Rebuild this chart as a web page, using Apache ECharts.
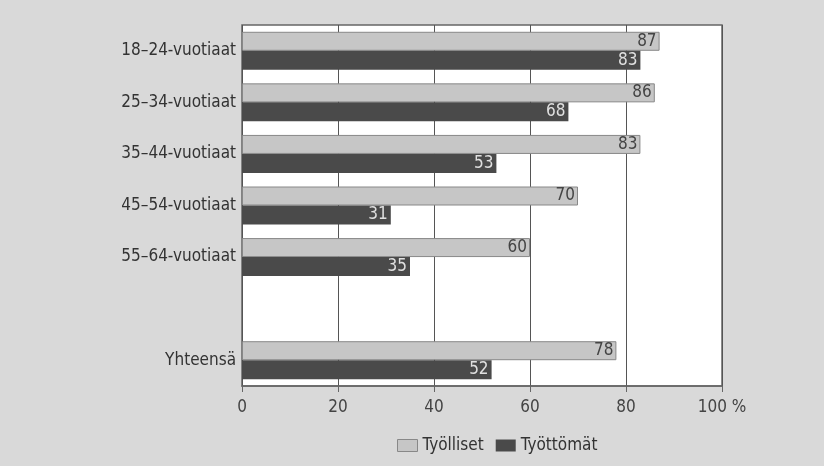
<!DOCTYPE html>
<html><head><meta charset="utf-8">
<script src="https://cdn.jsdelivr.net/npm/echarts@6/dist/echarts.min.js"></script>
<style>html,body{margin:0;padding:0;background:#d9d9d9;}#c{width:824px;height:466px;}</style>
</head><body><div id="c"></div>
<script>
const categories = ['18–24-vuotiaat','25–34-vuotiaat','35–44-vuotiaat','45–54-vuotiaat','55–64-vuotiaat','','Yhteensä'];
const tyolliset = [87,86,83,70,60,null,78];
const tyottomat = [83,68,53,31,35,null,52];
const xTicks = [0,20,40,60,80,100];
const FONT = '"Liberation Sans Narrow","DejaVu Sans Condensed","Roboto Condensed",sans-serif';
const chart = echarts.init(document.getElementById('c'));
chart.setOption({
  backgroundColor:'#d9d9d9',
  animation:false,
  textStyle:{fontFamily:FONT},
  grid:{left:242,right:102,top:25,bottom:80,show:true,backgroundColor:'#ffffff',borderColor:'#666',borderWidth:1.5},
  legend:{top:432,left:392,icon:'rect',itemWidth:20,itemHeight:12,itemGap:12,
    textStyle:{fontFamily:FONT,fontSize:17,color:'#333'},
    data:[{name:'Työlliset',itemStyle:{color:'#c6c6c6',borderColor:'#888',borderWidth:1}},{name:'Työttömät',itemStyle:{color:'#4a4a4a'}}]},
  xAxis:{type:'value',min:0,max:100,interval:20,
    axisLine:{show:true,lineStyle:{color:'#666',width:1.5}},
    axisTick:{show:true,length:6,lineStyle:{color:'#666'}},
    splitLine:{show:true,lineStyle:{color:'#555',width:1}},
    axisLabel:{fontFamily:FONT,fontSize:17,color:'#444',margin:13,
      formatter:v=> xTicks.includes(v) ? (v===100?'100 %':String(v)) : ''}},
  yAxis:{type:'category',data:categories,inverse:true,
    axisLine:{show:false},axisTick:{show:false},
    axisLabel:{fontFamily:FONT,fontSize:17,color:'#333',margin:6}},
  series:[
    {name:'Työlliset',type:'bar',data:tyolliset,barWidth:19,barGap:'0%',
     itemStyle:{color:'#c6c6c6',borderColor:'#888',borderWidth:1},
     label:{show:true,position:'insideRight',fontFamily:FONT,fontSize:17,color:'#444',distance:3}},
    {name:'Työttömät',type:'bar',data:tyottomat,barWidth:19,
     itemStyle:{color:'#4a4a4a'},
     label:{show:true,position:'insideRight',fontFamily:FONT,fontSize:17,color:'#e0e0e0',distance:3}}
  ]
});
</script></body></html>
